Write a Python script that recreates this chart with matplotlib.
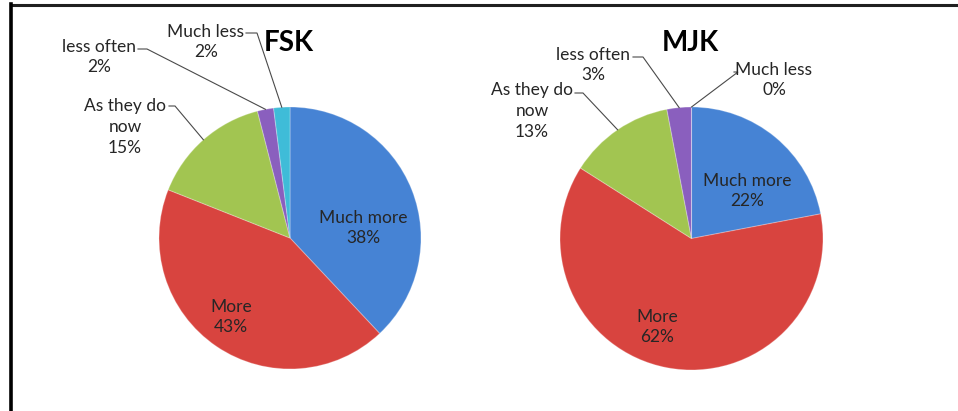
import matplotlib
matplotlib.use("Agg")
import matplotlib.pyplot as plt
from matplotlib.lines import Line2D
import numpy as np

# ---------------- data ----------------
categories = ["Much more", "More", "As they do\nnow", "less often", "Much less"]
fsk_values = [38, 43, 15, 2, 2]
mjk_values = [22, 62, 13, 3, 0]
titles = ["FSK", "MJK"]
colors = ["#4683D4", "#D8443F", "#A2C551", "#8A5FBE", "#3FBCD8"]

# ---------------- layout (pixel coordinates, y measured from top) ----------------
W, H = 958, 411
plt.rcParams['font.family'] = ['Lato', 'DejaVu Sans']
fig = plt.figure(figsize=(W / 100, H / 100), dpi=100)
ax = fig.add_axes([0, 0, 1, 1])

def Y(y):
    return H - y

pies = [
    dict(values=fsk_values, center=(290, 238), radius=131, title_xy=(289, 43),
         text_xy=[(363, 228), (231, 317), (125, 127), (99, 57), (206, 42)],
         elbow=[None, None, (175, 106), (147, 49), (257, 33)],
         text_end=[None, None, (169, 106), (138, 49), (246, 33)]),
    dict(values=mjk_values, center=(691.5, 238.5), radius=131.5, title_xy=(690, 43),
         text_xy=[(747, 191), (657, 327), (532, 111), (593, 65), (774, 80)],
         elbow=[None, None, (583, 93), (643, 57), (738, 72)],
         text_end=[None, None, (575, 93), (633, 57), (734, 72)]),
]

text_color = "#262626"
line_color = "#4A4A4A"

for k, p in enumerate(pies):
    cx, cy = p["center"]
    r = p["radius"]
    wedges, _ = ax.pie(p["values"], colors=colors, startangle=90, counterclock=False,
                       center=(cx, Y(cy)), radius=r,
                       wedgeprops=dict(edgecolor=(1, 1, 1, 0.25), linewidth=0.8))
    for i, (w, v) in enumerate(zip(wedges, p["values"])):
        label = f"{categories[i]}\n{v}%"
        tx, ty = p["text_xy"][i]
        ax.text(tx, Y(ty), label, ha="center", va="center", fontsize=12.5,
                color=text_color, linespacing=1.38)
        if p["elbow"][i] is not None:
            ang = np.deg2rad((w.theta1 + w.theta2) / 2)
            ax_pt = (cx + r * np.cos(ang), Y(cy) + r * np.sin(ang))
            ex, ey = p["elbow"][i]
            sx, sy = p["text_end"][i]
            ax.plot([sx, ex, ax_pt[0]], [Y(sy), Y(ey), ax_pt[1]], color=line_color,
                    lw=0.8, solid_joinstyle="miter")
    tx, ty = p["title_xy"]
    ax.text(tx, Y(ty), titles[k], ha="center", va="center", fontsize=20,
            fontweight="bold", color="black")

ax.set_xlim(0, W)
ax.set_ylim(0, H)
ax.set_aspect("equal")
ax.axis("off")

# frame lines (top and left)
fig.add_artist(Line2D([10.5 / W, 1], [1 - 5 / H, 1 - 5 / H], transform=fig.transFigure,
                      color="#202020", lw=2.2))
fig.add_artist(Line2D([10.5 / W, 10.5 / W], [0, 1 - 4 / H], transform=fig.transFigure,
                      color="black", lw=2.6))

fig.savefig("out.png", dpi=100)
